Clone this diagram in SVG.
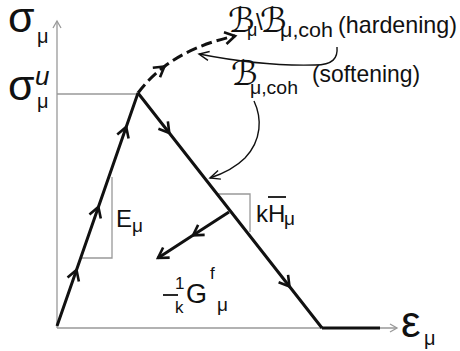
<svg xmlns="http://www.w3.org/2000/svg" width="460" height="351" viewBox="0 0 460 351">
<style>
.t{font-family:"Liberation Sans",Arial,sans-serif;fill:#111}
.s{font-family:"DejaVu Serif","DejaVu Sans",serif;font-style:italic;fill:#111}
.thick{fill:none;stroke:#111;stroke-width:3;stroke-linejoin:miter}
.gray{fill:none;stroke:#999;stroke-width:1.3}
.thin{fill:none;stroke:#111;stroke-width:1.4}
</style>
<defs>
<marker id="chev" markerUnits="userSpaceOnUse" markerWidth="24" markerHeight="24" refX="0" refY="0" viewBox="-12 -12 24 24" orient="auto" overflow="visible">
<path d="M-10,-6 L0,0 L-10,6" fill="none" stroke="#111" stroke-width="2.6"/>
</marker>
<marker id="chevT" markerUnits="userSpaceOnUse" markerWidth="24" markerHeight="24" refX="0" refY="0" viewBox="-12 -12 24 24" orient="auto" overflow="visible">
<path d="M-10,-4.5 L0,0 L-10,4.5" fill="none" stroke="#111" stroke-width="1.4"/>
</marker>
<marker id="chevA" markerUnits="userSpaceOnUse" markerWidth="24" markerHeight="24" refX="0" refY="0" viewBox="-12 -12 24 24" orient="auto" overflow="visible">
<path d="M-7,-4 L0,0 L-7,4" fill="none" stroke="#999" stroke-width="1.3"/>
</marker>
</defs>
<g id="axes">
<path class="gray" d="M57,328 V21" marker-end="url(#chevA)"/>
<path class="gray" d="M57,328 H397" marker-end="url(#chevA)"/>
<path class="gray" d="M57,94 H138"/>
<path class="gray" d="M82,258 H112 V177"/>
<path class="gray" d="M218,194 H250 V232"/>
</g>
<g id="connectors">
<path class="thick" d="M57,326 L76.5,270 L98.4,207 L126.2,127 L138,93" marker-mid="url(#chev)"/>
<path class="thick" d="M138,93 L169.3,133 L289.5,286.5 L322,328" marker-mid="url(#chev)"/>
<path class="thick" d="M322,328 H380"/>
<path class="thick" d="M138,93 Q149.2,77.95 164.4,66.5 Q192.75,45.1 235,36" stroke-dasharray="11,5" marker-mid="url(#chev)" marker-end="url(#chev)"/>
<path class="thick" d="M229,212 L193,235.3 L158,258" marker-mid="url(#chev)" marker-end="url(#chev)"/>
<path class="thin" d="M337,47 C338,58 333,65 315,65 C280,66 240,62 199,54" marker-end="url(#chevT)"/>
<path class="thin" d="M254,101 C262,118 262,140 245,158 C235,168 222,174 210,178" marker-end="url(#chevT)"/>
</g>
<g id="sigma">
<text class="t" x="8" y="32" font-size="43">σ</text>
<text class="t" x="37" y="43" font-size="20">μ</text>
</g>
<g id="sigma-u">
<text class="t" x="8" y="100" font-size="43">σ</text>
<text class="t" x="35" y="85" font-size="26" font-style="italic">u</text>
<text class="t" x="37" y="108" font-size="20">μ</text>
</g>
<g id="epsilon">
<text class="t" x="401" y="337" font-size="44">ε</text>
<text class="t" x="424" y="345" font-size="20">μ</text>
</g>
<g id="hardening">
<text class="s" x="228" y="32" font-size="34">ℬ</text>
<text class="t" x="247" y="36" font-size="18">μ</text>
<text class="t" x="256" y="30" font-size="24">\</text>
<text class="s" x="260" y="32" font-size="34">ℬ</text>
<text class="t" x="280" y="37" font-size="20" textLength="53" lengthAdjust="spacingAndGlyphs">μ,coh</text>
<text class="t" x="338" y="33" font-size="24" textLength="119" lengthAdjust="spacingAndGlyphs">(hardening)</text>
</g>
<g id="softening">
<text class="s" x="231" y="85" font-size="34">ℬ</text>
<text class="t" x="250" y="94" font-size="19" textLength="48" lengthAdjust="spacingAndGlyphs">μ,coh</text>
<text class="t" x="312" y="82" font-size="24" textLength="108" lengthAdjust="spacingAndGlyphs">(softening)</text>
</g>
<g id="E-label">
<text class="t" x="116" y="227" font-size="24">E</text>
<text class="t" x="132" y="232" font-size="19">μ</text>
</g>
<g id="kH-label">
<text class="t" x="256" y="222" font-size="24">kH</text>
<path d="M268,197 H286" stroke="#111" stroke-width="1.8"/>
<text class="t" x="284" y="225" font-size="19">μ</text>
</g>
<g id="G-label">
<path d="M163,295 H178" stroke="#111" stroke-width="1.8"/>
<text class="t" x="175" y="289" font-size="17">1</text>
<text class="t" x="175" y="313" font-size="17">k</text>
<text class="t" x="186" y="303" font-size="27">G</text>
<text class="t" x="210" y="279" font-size="17">f</text>
<text class="t" x="217" y="311" font-size="19">μ</text>
</g>
</svg>
